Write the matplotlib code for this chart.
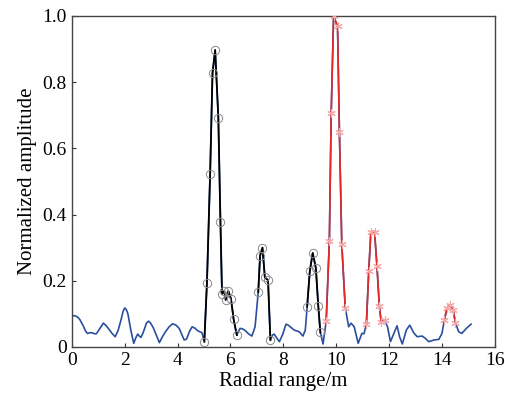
import numpy as np
import matplotlib
matplotlib.use("Agg")
import matplotlib.pyplot as plt

# ── data ────────────────────────────────────────────────────
# background (blue) trace, between the marked peaks
bg_x = [0.0, 0.13, 0.22, 0.30, 0.43, 0.52, 0.59, 0.68, 0.76, 0.86, 0.93, 1.05,
        1.19, 1.30, 1.41, 1.52, 1.64, 1.75, 1.86, 1.94, 2.0, 2.06, 2.12, 2.23,
        2.34, 2.42, 2.49, 2.55, 2.61, 2.67, 2.74, 2.82, 2.9, 2.98, 3.08, 3.2,
        3.31, 3.42, 3.54, 3.68, 3.81, 3.94, 4.06, 4.16, 4.25, 4.34, 4.45, 4.55,
        4.65, 4.76, 4.92,
        6.36, 6.45, 6.55, 6.68, 6.81, 6.93,
        7.59, 7.65, 7.76, 7.85, 7.98, 8.1, 8.18, 8.26, 8.41, 8.6, 8.74, 8.83,
        9.5,
        10.47, 10.56, 10.68, 10.76, 10.83, 10.97, 11.05,
        11.94, 12.05, 12.17, 12.3, 12.4, 12.5, 12.65, 12.78, 12.93, 13.06,
        13.25, 13.37, 13.5, 13.69, 13.88, 14.0,
        14.63, 14.75, 14.92, 15.1]
bg_y = [0.095, 0.094, 0.090, 0.083, 0.064, 0.048, 0.041, 0.043, 0.043, 0.040,
        0.040, 0.055, 0.072, 0.064, 0.053, 0.041, 0.031, 0.050, 0.082, 0.108,
        0.118, 0.113, 0.100, 0.051, 0.011, 0.028, 0.039, 0.033, 0.029, 0.038,
        0.053, 0.072, 0.078, 0.072, 0.058, 0.035,
        0.013, 0.030, 0.046, 0.061, 0.070, 0.066, 0.056, 0.038, 0.021, 0.024,
        0.047, 0.061, 0.057, 0.049, 0.043,
        0.056, 0.055, 0.050, 0.040, 0.033, 0.061,
        0.036, 0.039, 0.026, 0.016, 0.039, 0.069, 0.066, 0.061, 0.051, 0.046,
        0.033, 0.051,
        0.009,
        0.061, 0.072, 0.061, 0.035, 0.011, 0.041, 0.040,
        0.061, 0.016, 0.039, 0.064, 0.030, 0.009, 0.051, 0.066, 0.043, 0.031,
        0.033, 0.026, 0.016, 0.021, 0.023, 0.041,
        0.046, 0.041, 0.056, 0.069]

# black peaks (circles)
k1_x = [5.01, 5.11, 5.23, 5.32, 5.42, 5.54, 5.62, 5.68, 5.76, 5.82, 5.92, 6.02, 6.12, 6.24]
k1_y = [0.016, 0.194, 0.523, 0.827, 0.897, 0.693, 0.378, 0.160, 0.170, 0.142, 0.169, 0.145, 0.083, 0.036]
k2_x = [7.05, 7.12, 7.21, 7.30, 7.42, 7.51]
k2_y = [0.166, 0.276, 0.300, 0.210, 0.202, 0.021]
k3_x = [8.90, 9.00, 9.11, 9.23, 9.32, 9.40]
k3_y = [0.122, 0.229, 0.284, 0.238, 0.124, 0.044]

# red peaks (asterisks)
r1_x = [9.62, 9.74, 9.81, 9.90, 10.05, 10.12, 10.21, 10.34]
r1_y = [0.077, 0.320, 0.708, 1.000, 0.968, 0.650, 0.310, 0.119]
r2_x = [11.14, 11.23, 11.31, 11.45, 11.54, 11.63, 11.70, 11.83]
r2_y = [0.069, 0.230, 0.347, 0.347, 0.245, 0.124, 0.076, 0.080]
r3_x = [14.09, 14.19, 14.32, 14.42, 14.51]
r3_y = [0.082, 0.117, 0.127, 0.112, 0.073]

x_ticks = [0, 2, 4, 6, 8, 10, 12, 14, 16]
y_ticks = [0, 0.2, 0.4, 0.6, 0.8, 1.0]
y_labels = ["0", "0.2", "0.4", "0.6", "0.8", "1.0"]

plt.rcParams["font.family"] = ["Liberation Serif", "DejaVu Serif"]

fig, ax = plt.subplots(figsize=(5.06, 3.97), dpi=100)
fig.subplots_adjust(left=0.142, right=0.978, top=0.960, bottom=0.126)

# full trace in blue, peaks overlaid
all_x = np.array(bg_x + k1_x + k2_x + k3_x + r1_x + r2_x + r3_x)
all_y = np.array(bg_y + k1_y + k2_y + k3_y + r1_y + r2_y + r3_y)
order = np.argsort(all_x)
ax.plot(all_x[order], all_y[order], color="#2b4f9e", lw=1.2, zorder=2)

for px, py in [(k1_x, k1_y), (k2_x, k2_y), (k3_x, k3_y)]:
    ax.plot(px, py, color="black", lw=1.3, zorder=3)
    ax.plot(px, py, ls="none", marker="o", ms=6, mfc="none",
            mec="#8a8a8a", mew=0.7, zorder=4)

for px, py in [(r1_x, r1_y), (r2_x, r2_y), (r3_x, r3_y)]:
    ax.plot(px, py, color="#e02a2a", lw=1.2, zorder=3)
    ax.plot(px, py, ls="none", marker=(6, 2, 0), ms=6,
            mec="#f4a6a6", mew=0.8, zorder=4)

ax.set_xlim(0, 16)
ax.set_ylim(0, 1.0)
ax.set_xticks(x_ticks)
ax.set_yticks(y_ticks)
ax.set_yticklabels(y_labels)
ax.tick_params(direction="in", length=3, width=0.8, labelsize=14,
               top=False, right=False, colors="#333333", labelcolor="black")
for s in ax.spines.values():
    s.set_color("#444444")
    s.set_linewidth(1.0)

ax.set_xlabel("Radial range/m", fontsize=15, labelpad=2)
ax.set_ylabel("Normalized amplitude", fontsize=15, labelpad=4)

fig.savefig("out.png", dpi=100)
